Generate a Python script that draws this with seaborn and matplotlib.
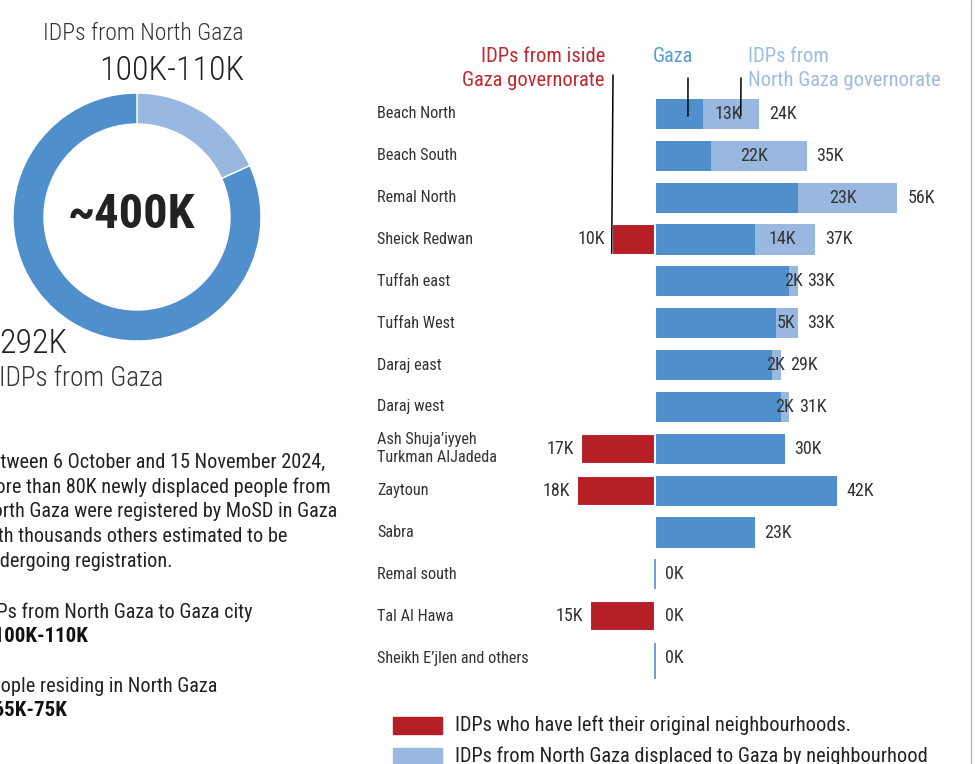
import matplotlib
matplotlib.use("Agg")

import matplotlib.pyplot as plt
import matplotlib.font_manager as fm
from matplotlib.patches import Rectangle
from matplotlib.lines import Line2D
from matplotlib.transforms import blended_transform_factory
import pandas as pd
import seaborn as sns

# ======================
# DATA
# ======================
neighbourhoods = [
    "Beach North", "Beach South", "Remal North", "Sheick Redwan",
    "Tuffah east", "Tuffah West", "Daraj east", "Daraj west",
    "Ash Shuja\u2019iyyeh\nTurkman AlJadeda", "Zaytoun", "Sabra",
    "Remal south", "Tal Al Hawa", "Sheikh E\u2019jlen and others",
]
total_k = [24, 35, 56, 37, 33, 33, 29, 31, 30, 42, 23, 0, 0, 0]
north_k = [13, 22, 23, 14, 2, 5, 2, 2, 0, 0, 0, 0, 0, 0]
left_k = [0, 0, 0, 10, 0, 0, 0, 0, 17, 18, 0, 0, 15, 0]

donut_labels = ["IDPs from North Gaza", "IDPs from Gaza"]
donut_values = [65, 292]   # share as drawn in the ring
donut_texts = ["100K-110K", "292K"]
donut_total = "~400K"

paragraph = [
    "Between 6 October and 15 November 2024,",
    "more than 80K newly displaced people from",
    "North Gaza were registered by MoSD in Gaza",
    "with thousands others estimated to be",
    "undergoing registration.",
]
facts = [
    ("IDPs from North Gaza to Gaza city", "~100K-110K"),
    ("People residing in North Gaza", "~65K-75K"),
]
legend_items = [
    "IDPs who have left their original neighbourhoods.",
    "IDPs from North Gaza displaced to Gaza by neighbourhood",
]

# ======================
# STYLE
# ======================
DARK = "#4F8FCC"
LIGHT = "#98B8E0"
RED = "#B71F27"
RED_TXT = "#C0282F"
LIGHT_TXT = "#9DBCE3"
GAZA_TXT = "#5B9BD5"
TXT = "#333333"

W, H = 977, 764

sns.set_style("white")
names = {f.name for f in fm.fontManager.ttflist}
FONT = "Roboto"
for cand in ["Roboto Condensed", "Liberation Sans Narrow", "Roboto"]:
    if cand in names:
        FONT = cand
        break
plt.rcParams["font.family"] = [FONT, "DejaVu Sans"]


def fx(x):
    return x / W


def fy(y):
    return 1 - y / H


fig = plt.figure(figsize=(W / 100, H / 100), dpi=100)

# ======================
# BAR CHART
# ======================
df = pd.DataFrame({
    "name": neighbourhoods,
    "total": total_k,
    "north": north_k,
    "left": left_k,
})
df["gaza"] = df["total"] - df["north"]
df["left_neg"] = -df["left"]

ax = fig.add_axes([fx(560), fy(679), 400 / W, (679 - 93) / H])

sns.barplot(data=df, y="name", x="total", order=neighbourhoods, color=LIGHT,
            saturation=1, width=0.72, linewidth=0, orient="h", ax=ax)
sns.barplot(data=df, y="name", x="gaza", order=neighbourhoods, color=DARK,
            saturation=1, width=0.72, linewidth=0, orient="h", ax=ax)
sns.barplot(data=df, y="name", x="left_neg", order=neighbourhoods, color=RED,
            saturation=1, width=0.72, linewidth=1.5, edgecolor="white",
            orient="h", ax=ax)

# empty neighbourhoods: thin baseline
zero_rows = [i for i in range(len(df)) if df["total"][i] == 0 and df["left"][i] == 0]
for i in zero_rows:
    bottom = i + 1.0 if i == len(df) - 1 else i + 0.36
    ax.vlines(0, i - 0.36, bottom, color=DARK, lw=1.2)

ax.set_xlim(-(655 - 560) / 4.33, (960 - 655) / 4.33)
ax.set_ylim(len(df) - 0.5, -0.5)
ax.set_axis_off()

trans = blended_transform_factory(fig.transFigure, ax.transData)
for i, row in df.iterrows():
    ax.text(fx(377), i, row["name"], transform=trans, ha="left", va="center",
            fontsize=11.7, color=TXT, linespacing=1.25)
    if row["north"] > 0:
        ax.text(row["gaza"] + row["north"] * 0.45, i, f"{row['north']}K",
                ha="center", va="center", fontsize=13, color=TXT)
    ax.annotate(f"{row['total']}K", (row["total"], i), xytext=(7, 0),
                textcoords="offset points", ha="left", va="center",
                fontsize=13, color=TXT)
    if row["left"] > 0:
        ax.annotate(f"{row['left']}K", (-row["left"], i), xytext=(-5, 0),
                    textcoords="offset points", ha="right", va="center",
                    fontsize=13, color=TXT)

# headers with leader lines
HDR = 14.8
fig.text(fx(605), fy(57), "IDPs from iside", ha="right", va="center",
         fontsize=HDR, color=RED_TXT)
fig.text(fx(605), fy(81), "Gaza governorate", ha="right", va="center",
         fontsize=HDR, color=RED_TXT)
fig.text(fx(653), fy(57), "Gaza", ha="left", va="center",
         fontsize=HDR, color=GAZA_TXT)
fig.text(fx(748), fy(57), "IDPs from", ha="left", va="center",
         fontsize=HDR, color=LIGHT_TXT)
fig.text(fx(748), fy(81), "North Gaza governorate", ha="left", va="center",
         fontsize=HDR, color=LIGHT_TXT)

line_kw = dict(arrowstyle="-", color="black", lw=1.1, shrinkA=0, shrinkB=0)
ax.annotate("", xy=(-left_k[3], 3.33), xytext=(613, H - 75),
            textcoords="figure pixels", arrowprops=line_kw)
ax.annotate("", xy=(7.6, 0.05), xytext=(688, H - 78),
            textcoords="figure pixels", arrowprops=line_kw)
ax.annotate("", xy=(19.8, 0.05), xytext=(741, H - 78),
            textcoords="figure pixels", arrowprops=line_kw)

# legend
for k, (label, col) in enumerate(zip(legend_items, [RED, LIGHT])):
    y0 = 725 + k * 31
    fig.add_artist(Rectangle((fx(393), fy(y0 + 9)), 49 / W, 17 / H,
                             color=col, transform=fig.transFigure))
    fig.text(fx(455), fy(y0), label, ha="left", va="center",
             fontsize=14.7, color="#222222")

# ======================
# DONUT
# ======================
ax2 = fig.add_axes([fx(13), fy(341), 248 / W, 248 / H])
ax2.pie(donut_values, colors=[LIGHT, DARK], startangle=90, counterclock=False,
        radius=1, wedgeprops=dict(width=0.25, edgecolor="white", linewidth=1))
ax2.set_xlim(-1, 1)
ax2.set_ylim(-1, 1)
ax2.set_aspect("equal")
ax2.set_axis_off()

fig.text(fx(143), fy(34), donut_labels[0], ha="center", va="center",
         fontsize=17, fontweight="light", color=TXT)
fig.text(fx(244), fy(71), donut_texts[0], ha="right", va="center",
         fontsize=24.5, fontweight="light", color="#222222")
fig.text(fx(131), fy(215), donut_total, ha="center", va="center",
         fontsize=35, fontweight="bold", color="#222222")
fig.text(fx(-1), fy(344), donut_texts[1], ha="left", va="center",
         fontsize=24.5, fontweight="light", color="#222222")
fig.text(fx(-1), fy(379), donut_labels[1], ha="left", va="center",
         fontsize=19.5, fontweight="light", color=TXT)

# ======================
# TEXT BLOCK (clipped at left edge)
# ======================
for k, line in enumerate(paragraph):
    fig.text(fx(-20), fy(462 + k * 24.8), line, ha="left", va="center",
             fontsize=14.6, color="#222222")
for k, (label, value) in enumerate(facts):
    y0 = 612 + k * 74
    fig.text(fx(-20), fy(y0), label, ha="left", va="center",
             fontsize=14.6, color="#222222")
    fig.text(fx(-18), fy(y0 + 24), value, ha="left", va="center",
             fontsize=15, fontweight="bold", color="#111111")

# page edge
fig.add_artist(Line2D([fx(971), fx(971)], [0, 1], color="#b8b8b8", lw=1,
                      transform=fig.transFigure))

fig.savefig("out.png", dpi=100)
plt.close(fig)
